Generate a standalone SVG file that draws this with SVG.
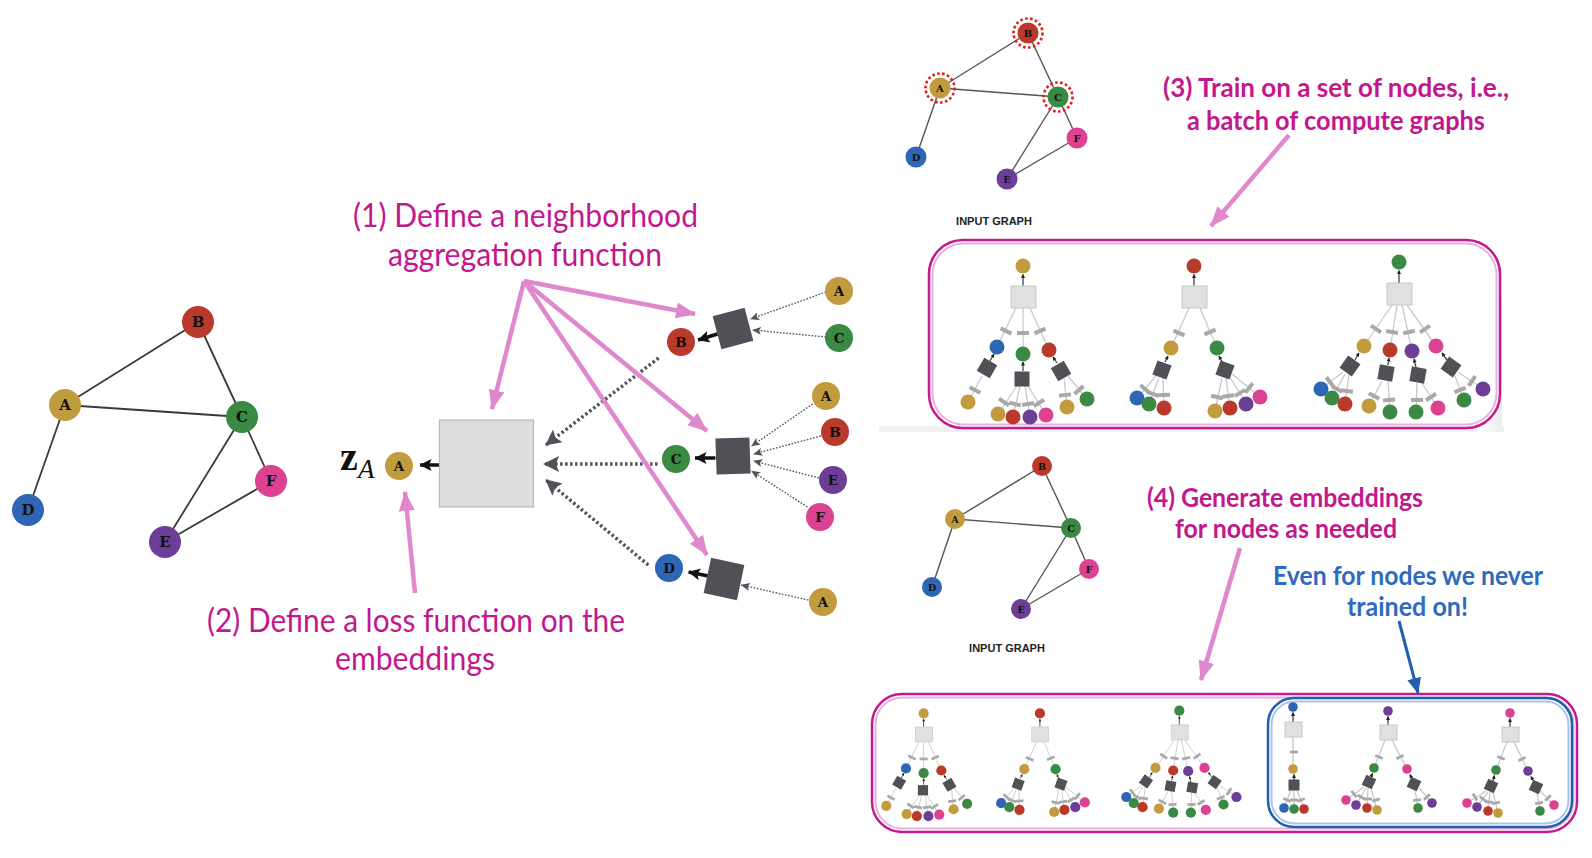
<svg xmlns="http://www.w3.org/2000/svg" xmlns:xlink="http://www.w3.org/1999/xlink" width="1592" height="858" viewBox="0 0 1592 858">
<defs>
<style>
.lbl{font-family:"DejaVu Serif","Liberation Serif",serif;font-weight:bold;fill:#111;text-anchor:middle;dominant-baseline:central}
.ga{fill:#C29B3E}.gb{fill:#B9392A}.gc{fill:#3A8A44}.gd{fill:#2E66B5}.ge{fill:#6C3E97}.gf{fill:#DC4291}
.edge{stroke:#3a3a3a;stroke-width:1.8;fill:none}
.edge2{stroke:#555;stroke-width:1.4;fill:none}
.pink{stroke:#E088CD;stroke-width:4.5;fill:none;marker-end:url(#mPink)}
.thick{stroke:#50545a;stroke-width:3.5;stroke-dasharray:2.5 2.5;fill:none;marker-end:url(#mDot)}
.thin{stroke:#50545a;stroke-width:1.4;stroke-dasharray:1.6 1.6;fill:none;marker-end:url(#mThin)}
.blk{stroke:#111;stroke-width:3.5;fill:none;marker-end:url(#mBlk)}
.tm{font-family:Lato,"Open Sans","Liberation Sans",sans-serif;font-size:32px;fill:#C3178E}
.tb{font-family:Lato,"Open Sans","Liberation Sans",sans-serif;font-size:27px;font-weight:bold;fill:#C3178E}
.tbl{font-family:Lato,"Open Sans","Liberation Sans",sans-serif;font-size:27px;font-weight:bold;fill:#2D6BBE}
.ig{font-family:"Liberation Sans",Arial,sans-serif;font-size:11px;font-weight:bold;fill:#222;text-anchor:middle}
.tl{stroke:#c9c9c9;stroke-width:1.3}
.tk{stroke:#444;stroke-width:1.3;marker-end:url(#mTiny)}
.gbox{fill:#dfe0e2;stroke:#c6c7ca;stroke-width:1}
.sq{fill:#4f5156}
.w{fill:#a9a9a9}
.ring{fill:none;stroke:#E4201C;stroke-width:2.6;stroke-dasharray:2.6 2.4}
</style>
<marker id="mPink" markerUnits="userSpaceOnUse" markerWidth="20" markerHeight="18" viewBox="0 0 20 18" refX="19" refY="9" orient="auto"><path d="M0,1 L20,9 L0,17 Z" fill="#E088CD"/></marker>
<marker id="mBlue" markerUnits="userSpaceOnUse" markerWidth="16" markerHeight="14" viewBox="0 0 16 14" refX="15" refY="7" orient="auto"><path d="M0,0 L16,7 L0,14 Z" fill="#1F5FAF"/></marker>
<marker id="mDot" markerUnits="userSpaceOnUse" markerWidth="16" markerHeight="16" viewBox="0 0 16 16" refX="15" refY="8" orient="auto"><path d="M0,0 L16,8 L0,16 L3,8 Z" fill="#50545a"/></marker>
<marker id="mThin" markerUnits="userSpaceOnUse" markerWidth="9" markerHeight="8" viewBox="0 0 9 8" refX="8.5" refY="4" orient="auto"><path d="M0,0 L9,4 L0,8 L2,4 Z" fill="#50545a"/></marker>
<marker id="mBlk" markerUnits="userSpaceOnUse" markerWidth="12" markerHeight="12" viewBox="0 0 12 12" refX="11.5" refY="6" orient="auto"><path d="M0,0 L12,6 L0,12 L2.5,6 Z" fill="#111"/></marker>
<marker id="mTiny" markerUnits="userSpaceOnUse" markerWidth="4" markerHeight="4" viewBox="0 0 4 4" refX="3.5" refY="2" orient="auto"><path d="M0,0 L4,2 L0,4 Z" fill="#222"/></marker>
<rect id="w" class="w" x="-6" y="-2" width="12" height="4"/>
<rect id="ws" class="w" x="-4" y="-1.4" width="8" height="2.8"/>
<rect id="sq" class="sq" x="-7.5" y="-7.5" width="15" height="15"/>
<rect id="sqs" class="sq" x="-5.5" y="-5.5" width="11" height="11"/>
<linearGradient id="shade" x1="0" y1="0" x2="1" y2="0"><stop offset="0" stop-color="#ffffff"/><stop offset="1" stop-color="#ececec"/></linearGradient>
</defs>
<rect width="1592" height="858" fill="#ffffff"/>

<!-- ===== Left input graph ===== -->
<g id="graph-left">
  <g class="edge">
    <line x1="65" y1="405" x2="198" y2="322"/>
    <line x1="65" y1="405" x2="242" y2="417"/>
    <line x1="198" y1="322" x2="242" y2="417"/>
    <line x1="65" y1="405" x2="28" y2="510"/>
    <line x1="242" y1="417" x2="165" y2="542"/>
    <line x1="242" y1="417" x2="271" y2="481"/>
    <line x1="271" y1="481" x2="165" y2="542"/>
  </g>
  <g id="L-B"><circle class="gb" cx="198" cy="322" r="16"/><text class="lbl" x="198" y="322" font-size="15">B</text></g>
  <g id="L-A"><circle class="ga" cx="65" cy="405" r="16"/><text class="lbl" x="65" y="405" font-size="15">A</text></g>
  <g id="L-C"><circle class="gc" cx="242" cy="417" r="16"/><text class="lbl" x="242" y="417" font-size="15">C</text></g>
  <g id="L-F"><circle class="gf" cx="271" cy="481" r="16"/><text class="lbl" x="271" y="481" font-size="15">F</text></g>
  <g id="L-D"><circle class="gd" cx="28" cy="510" r="16"/><text class="lbl" x="28" y="510" font-size="15">D</text></g>
  <g id="L-E"><circle class="ge" cx="165" cy="542" r="16"/><text class="lbl" x="165" y="542" font-size="15">E</text></g>
</g>

<!-- ===== Middle compute graph ===== -->
<g id="connectors-mid">
  <line class="thick" x1="658.6" y1="358" x2="546" y2="445"/>
  <line class="thick" x1="657.6" y1="464" x2="544" y2="464"/>
  <line class="thick" x1="648.3" y1="565" x2="546" y2="480"/>
  <line class="thin" x1="826" y1="292" x2="750.6" y2="319"/>
  <line class="thin" x1="826" y1="337" x2="752.6" y2="330"/>
  <line class="thin" x1="812.6" y1="404" x2="751.6" y2="446"/>
  <line class="thin" x1="820.8" y1="436" x2="753.7" y2="454"/>
  <line class="thin" x1="818.8" y1="478" x2="753.7" y2="461"/>
  <line class="thin" x1="807.4" y1="507" x2="751.6" y2="471"/>
  <line class="thin" x1="808.4" y1="600" x2="741.3" y2="585"/>
  <line class="blk" x1="439.5" y1="465" x2="420" y2="465"/>
  <line class="blk" x1="717.5" y1="334" x2="698" y2="340"/>
  <line class="blk" x1="715.4" y1="458" x2="695" y2="458"/>
  <line class="blk" x1="708.2" y1="576" x2="688.6" y2="572"/>
</g>
<g id="agg-box"><rect x="439.5" y="420" width="94" height="87" fill="#dcdddf" stroke="#b9babd" stroke-width="1.2"/></g>
<g id="zA-label">
  <text x="340" y="470" font-family="'Liberation Serif','DejaVu Serif',serif" font-weight="bold" font-size="40" fill="#111">z</text>
  <text x="358" y="478" font-family="'Liberation Serif','DejaVu Serif',serif" font-style="italic" font-size="27" fill="#111">A</text>
</g>
<g id="M-A"><circle class="ga" cx="399" cy="466" r="14"/><text class="lbl" x="399" y="466" font-size="13.5">A</text></g>
<g id="M-B"><circle class="gb" cx="681" cy="342" r="14"/><text class="lbl" x="681" y="342" font-size="13.5">B</text></g>
<g id="M-C"><circle class="gc" cx="676" cy="459" r="14"/><text class="lbl" x="676" y="459" font-size="13.5">C</text></g>
<g id="M-D"><circle class="gd" cx="669" cy="568" r="14"/><text class="lbl" x="669" y="568" font-size="13.5">D</text></g>
<g id="M-sqB"><rect class="sq" x="-16.5" y="-17" width="33" height="34" transform="translate(733,328.5) rotate(-15)"/></g>
<g id="M-sqC"><rect class="sq" x="-17" y="-18" width="34" height="36" transform="translate(733,456) rotate(-2)"/></g>
<g id="M-sqD"><rect class="sq" x="-17" y="-18" width="34" height="36" transform="translate(724,579) rotate(12)"/></g>
<g id="M-A1"><circle class="ga" cx="839" cy="291" r="14"/><text class="lbl" x="839" y="291" font-size="13.5">A</text></g>
<g id="M-C1"><circle class="gc" cx="839" cy="338" r="14"/><text class="lbl" x="839" y="338" font-size="13.5">C</text></g>
<g id="M-A2"><circle class="ga" cx="826" cy="396" r="14"/><text class="lbl" x="826" y="396" font-size="13.5">A</text></g>
<g id="M-B2"><circle class="gb" cx="835" cy="432" r="14"/><text class="lbl" x="835" y="432" font-size="13.5">B</text></g>
<g id="M-E2"><circle class="ge" cx="833" cy="480" r="14"/><text class="lbl" x="833" y="480" font-size="13.5">E</text></g>
<g id="M-F2"><circle class="gf" cx="820" cy="517" r="14"/><text class="lbl" x="820" y="517" font-size="13.5">F</text></g>
<g id="M-A3"><circle class="ga" cx="823" cy="602" r="14"/><text class="lbl" x="823" y="602" font-size="13.5">A</text></g>

<!-- ===== Top-right input graph ===== -->
<g id="graph-top">
  <g class="edge2">
    <line x1="940" y1="88" x2="1028" y2="33"/>
    <line x1="940" y1="88" x2="1058" y2="97"/>
    <line x1="1028" y1="33" x2="1058" y2="97"/>
    <line x1="940" y1="88" x2="916" y2="157"/>
    <line x1="1058" y1="97" x2="1007" y2="179"/>
    <line x1="1058" y1="97" x2="1077" y2="138"/>
    <line x1="1077" y1="138" x2="1007" y2="179"/>
  </g>
  <g id="T-B"><circle class="ring" cx="1028" cy="33" r="14.5"/><circle class="gb" cx="1028" cy="33" r="10.5"/><text class="lbl" x="1028" y="33" font-size="10">B</text></g>
  <g id="T-A"><circle class="ring" cx="940" cy="88" r="14.5"/><circle class="ga" cx="940" cy="88" r="10.5"/><text class="lbl" x="940" y="88" font-size="10">A</text></g>
  <g id="T-C"><circle class="ring" cx="1058" cy="97" r="14.5"/><circle class="gc" cx="1058" cy="97" r="10.5"/><text class="lbl" x="1058" y="97" font-size="10">C</text></g>
  <g id="T-F"><circle class="gf" cx="1077" cy="138" r="10.5"/><text class="lbl" x="1077" y="138" font-size="10">F</text></g>
  <g id="T-D"><circle class="gd" cx="916" cy="157" r="10.5"/><text class="lbl" x="916" y="157" font-size="10">D</text></g>
  <g id="T-E"><circle class="ge" cx="1007" cy="179" r="10.5"/><text class="lbl" x="1007" y="179" font-size="10">E</text></g>
  <text class="ig" x="994" y="225">INPUT GRAPH</text>
</g>

<!-- ===== Bottom-right input graph ===== -->
<g id="graph-bottom">
  <g class="edge2">
    <line x1="955" y1="519" x2="1042" y2="466"/>
    <line x1="955" y1="519" x2="1071" y2="528"/>
    <line x1="1042" y1="466" x2="1071" y2="528"/>
    <line x1="955" y1="519" x2="932" y2="587"/>
    <line x1="1071" y1="528" x2="1021" y2="609"/>
    <line x1="1071" y1="528" x2="1089" y2="569"/>
    <line x1="1089" y1="569" x2="1021" y2="609"/>
  </g>
  <g id="U-B"><circle class="gb" cx="1042" cy="466" r="10"/><text class="lbl" x="1042" y="466" font-size="9.5">B</text></g>
  <g id="U-A"><circle class="ga" cx="955" cy="519" r="10"/><text class="lbl" x="955" y="519" font-size="9.5">A</text></g>
  <g id="U-C"><circle class="gc" cx="1071" cy="528" r="10"/><text class="lbl" x="1071" y="528" font-size="9.5">C</text></g>
  <g id="U-F"><circle class="gf" cx="1089" cy="569" r="10"/><text class="lbl" x="1089" y="569" font-size="9.5">F</text></g>
  <g id="U-D"><circle class="gd" cx="932" cy="587" r="10"/><text class="lbl" x="932" y="587" font-size="9.5">D</text></g>
  <g id="U-E"><circle class="ge" cx="1021" cy="609" r="10"/><text class="lbl" x="1021" y="609" font-size="9.5">E</text></g>
  <text class="ig" x="1007" y="652">INPUT GRAPH</text>
</g>

<!-- ===== Top batch box ===== -->
<g id="batch-top">
  <rect x="879" y="426" width="625" height="6" fill="#f0f0f0"/>
  <rect x="1478" y="300" width="24" height="132" fill="url(#shade)"/>
  <rect x="929" y="240" width="571" height="188" rx="34" fill="#ffffff" stroke="#C41A8E" stroke-width="2.5"/>
  <rect x="932.5" y="243.5" width="564" height="181" rx="31" fill="none" stroke="#EDB0DC" stroke-width="2"/>
  <g id="trees-train">
    <g id="treeA">
      <line class="tk" x1="1023" y1="286" x2="1023" y2="274.5"/>
      <g class="tl">
        <line x1="1016" y1="308" x2="997" y2="347"/><line x1="1023" y1="308" x2="1023" y2="354"/><line x1="1030" y1="308" x2="1049" y2="350"/>
        <line x1="982" y1="376" x2="968" y2="402"/>
        <line x1="1017" y1="386" x2="998" y2="414"/><line x1="1020" y1="386" x2="1013" y2="417"/><line x1="1025" y1="386" x2="1030" y2="417"/><line x1="1028" y1="386" x2="1046" y2="415"/>
        <line x1="1064" y1="378" x2="1067" y2="407"/><line x1="1068" y1="376" x2="1087" y2="399"/>
      </g>
      <rect class="gbox" x="1011" y="286" width="25" height="22"/>
      <circle class="ga" cx="1023" cy="266" r="7.5"/>
      <use href="#w" transform="translate(1006,331) rotate(26)"/><use href="#w" transform="translate(1023,333)"/><use href="#w" transform="translate(1040,331) rotate(-24)"/>
      <circle class="gd" cx="997" cy="347" r="7.5"/><circle class="gc" cx="1023" cy="354" r="7.5"/><circle class="gb" cx="1049" cy="350" r="7.5"/>
      <line class="tk" x1="990" y1="361" x2="994" y2="354"/><line class="tk" x1="1023" y1="371" x2="1023" y2="362"/><line class="tk" x1="1057" y1="363" x2="1053" y2="357"/>
      <use href="#sq" transform="translate(987,368) rotate(30)"/><use href="#sq" transform="translate(1022,379)"/><use href="#sq" transform="translate(1061,371) rotate(-30)"/>
      <use href="#w" transform="translate(975,390) rotate(28)"/>
      <use href="#w" transform="translate(1004,402) rotate(34)"/><use href="#w" transform="translate(1015,404) rotate(13)"/><use href="#w" transform="translate(1028,404) rotate(-9)"/><use href="#w" transform="translate(1039,403) rotate(-32)"/>
      <use href="#w" transform="translate(1065,395) rotate(-6)"/><use href="#w" transform="translate(1079,390) rotate(-40)"/>
      <circle class="ga" cx="968" cy="402" r="7.5"/>
      <circle class="ga" cx="998" cy="414" r="7.5"/><circle class="gb" cx="1013" cy="417" r="7.5"/><circle class="ge" cx="1030" cy="417" r="7.5"/><circle class="gf" cx="1046" cy="415" r="7.5"/>
      <circle class="ga" cx="1067" cy="407" r="7.5"/><circle class="gc" cx="1087" cy="399" r="7.5"/>
    </g>
    <g id="treeB">
      <line class="tk" x1="1194" y1="286" x2="1194" y2="274.5"/>
      <g class="tl">
        <line x1="1189" y1="308" x2="1171" y2="348"/><line x1="1200" y1="308" x2="1217" y2="348"/>
        <line x1="1156" y1="376" x2="1137" y2="398"/><line x1="1159" y1="378" x2="1149" y2="404"/><line x1="1163" y1="378" x2="1164" y2="408"/>
        <line x1="1222" y1="378" x2="1215" y2="411"/><line x1="1226" y1="378" x2="1230" y2="408"/><line x1="1230" y1="377" x2="1246" y2="404"/><line x1="1232" y1="374" x2="1260" y2="397"/>
      </g>
      <rect class="gbox" x="1182" y="286" width="25" height="22"/>
      <circle class="gb" cx="1194" cy="266" r="7.5"/>
      <use href="#w" transform="translate(1179,333) rotate(24)"/><use href="#w" transform="translate(1210,332) rotate(-23)"/>
      <circle class="ga" cx="1171" cy="348" r="7.5"/><circle class="gc" cx="1217" cy="348" r="7.5"/>
      <line class="tk" x1="1165" y1="362" x2="1168" y2="356"/><line class="tk" x1="1222" y1="362" x2="1219" y2="356"/>
      <use href="#sq" transform="translate(1162,370) rotate(20)"/><use href="#sq" transform="translate(1225,370) rotate(20)"/>
      <use href="#w" transform="translate(1145,389) rotate(41)"/><use href="#w" transform="translate(1153,394) rotate(21)"/><use href="#w" transform="translate(1164,395) rotate(-2)"/>
      <use href="#w" transform="translate(1217,397) rotate(12)"/><use href="#w" transform="translate(1228,396) rotate(-8)"/><use href="#w" transform="translate(1240,393) rotate(-31)"/><use href="#w" transform="translate(1249,388) rotate(-51)"/>
      <circle class="gd" cx="1137" cy="398" r="7.5"/><circle class="gc" cx="1149" cy="404" r="7.5"/><circle class="gb" cx="1164" cy="408" r="7.5"/>
      <circle class="ga" cx="1215" cy="411" r="7.5"/><circle class="gb" cx="1230" cy="408" r="7.5"/><circle class="ge" cx="1246" cy="404" r="7.5"/><circle class="gf" cx="1260" cy="397" r="7.5"/>
    </g>
    <g id="treeC">
      <line class="tk" x1="1399" y1="283" x2="1399" y2="270.5"/>
      <g class="tl">
        <line x1="1392" y1="305" x2="1364" y2="346"/><line x1="1397" y1="305" x2="1390" y2="350"/><line x1="1402" y1="305" x2="1412" y2="351"/><line x1="1407" y1="305" x2="1436" y2="346"/>
        <line x1="1343" y1="372" x2="1321" y2="389"/><line x1="1345" y1="374" x2="1332" y2="398"/><line x1="1349" y1="374" x2="1345" y2="404"/>
        <line x1="1382" y1="381" x2="1369" y2="406"/><line x1="1388" y1="381" x2="1390" y2="412"/>
        <line x1="1417" y1="383" x2="1416" y2="412"/><line x1="1422" y1="383" x2="1438" y2="408"/>
        <line x1="1455" y1="376" x2="1464" y2="400"/><line x1="1458" y1="372" x2="1483" y2="389"/>
      </g>
      <rect class="gbox" x="1387" y="283" width="25" height="22"/>
      <circle class="gc" cx="1399" cy="262" r="7.5"/>
      <use href="#w" transform="translate(1376,329) rotate(34)"/><use href="#w" transform="translate(1392,332) rotate(9)"/><use href="#w" transform="translate(1409,332) rotate(-12)"/><use href="#w" transform="translate(1425,329) rotate(-35)"/>
      <circle class="ga" cx="1364" cy="346" r="7.5"/><circle class="gb" cx="1390" cy="350" r="7.5"/><circle class="ge" cx="1412" cy="351" r="7.5"/><circle class="gf" cx="1436" cy="346" r="7.5"/>
      <line class="tk" x1="1355" y1="360" x2="1359" y2="353"/><line class="tk" x1="1388" y1="365" x2="1389" y2="358"/><line class="tk" x1="1416" y1="367" x2="1414" y2="359"/><line class="tk" x1="1447" y1="360" x2="1442" y2="353"/>
      <use href="#sq" transform="translate(1350,366) rotate(35)"/><use href="#sq" transform="translate(1386,373) rotate(10)"/><use href="#sq" transform="translate(1418,375) rotate(10)"/><use href="#sq" transform="translate(1451,367) rotate(35)"/>
      <use href="#w" transform="translate(1330,382) rotate(52)"/><use href="#w" transform="translate(1337,389) rotate(28)"/><use href="#w" transform="translate(1347,391) rotate(8)"/>
      <use href="#w" transform="translate(1374,396) rotate(28)"/><use href="#w" transform="translate(1389,400) rotate(-4)"/>
      <use href="#w" transform="translate(1417,400)"/><use href="#w" transform="translate(1431,397) rotate(-33)"/>
      <use href="#w" transform="translate(1460,390) rotate(-21)"/><use href="#w" transform="translate(1472,381) rotate(-56)"/>
      <circle class="gd" cx="1321" cy="389" r="7.5"/><circle class="gc" cx="1332" cy="398" r="7.5"/><circle class="gb" cx="1345" cy="404" r="7.5"/>
      <circle class="ga" cx="1369" cy="406" r="7.5"/><circle class="gc" cx="1390" cy="412" r="7.5"/>
      <circle class="gc" cx="1416" cy="412" r="7.5"/><circle class="gf" cx="1438" cy="408" r="7.5"/>
      <circle class="gc" cx="1464" cy="400" r="7.5"/><circle class="ge" cx="1483" cy="389" r="7.5"/>
    </g>
  </g>
</g>

<!-- ===== Bottom batch box ===== -->
<g id="batch-bottom">
  <rect x="872" y="694" width="705" height="138" rx="30" fill="#ffffff" stroke="#C41A8E" stroke-width="2.5"/>
  <rect x="875.5" y="697.5" width="698" height="131" rx="27" fill="none" stroke="#EDB0DC" stroke-width="2"/>
  <use href="#trees-train" transform="translate(228,532.5) scale(0.68)"/>
  <g id="unseen-box">
    <rect x="1268" y="698" width="304" height="129" rx="26" fill="none" stroke="#1E5FB0" stroke-width="2.5"/>
    <rect x="1271.5" y="701.5" width="297" height="122" rx="23" fill="none" stroke="#A9C6EA" stroke-width="2"/>
  </g>
  <g id="treeD">
    <line class="tk" x1="1293" y1="722" x2="1293" y2="712.5"/>
    <g class="tl">
      <line x1="1293" y1="737" x2="1293" y2="769"/>
      <line x1="1291" y1="790" x2="1284" y2="808"/><line x1="1294" y1="790" x2="1294" y2="809"/><line x1="1297" y1="790" x2="1304" y2="809"/>
    </g>
    <rect class="gbox" x="1285" y="722" width="17" height="15"/>
    <circle class="gd" cx="1293" cy="707" r="4.8"/>
    <use href="#ws" transform="translate(1294,752)"/>
    <circle class="ga" cx="1293" cy="769" r="4.8"/>
    <line class="tk" x1="1294" y1="780" x2="1294" y2="774.5"/>
    <use href="#sqs" transform="translate(1294,785)"/>
    <use href="#ws" transform="translate(1287,800) rotate(22)"/><use href="#ws" transform="translate(1294,800)"/><use href="#ws" transform="translate(1301,800) rotate(-22)"/>
    <circle class="gd" cx="1284" cy="808" r="4.8"/><circle class="gc" cx="1294" cy="809" r="4.8"/><circle class="gb" cx="1304" cy="809" r="4.8"/>
  </g>
  <g id="treeE">
    <line class="tk" x1="1388" y1="725" x2="1388" y2="716.5"/>
    <g class="tl">
      <line x1="1385" y1="740" x2="1374" y2="768"/><line x1="1392" y1="740" x2="1407" y2="769"/>
      <line x1="1364" y1="787" x2="1346" y2="800"/><line x1="1366" y1="788" x2="1356" y2="805"/><line x1="1368" y1="788" x2="1367" y2="808"/><line x1="1371" y1="788" x2="1377" y2="810"/>
      <line x1="1415" y1="790" x2="1418" y2="808"/><line x1="1419" y1="788" x2="1432" y2="803"/>
    </g>
    <rect class="gbox" x="1380" y="725" width="17" height="15"/>
    <circle class="ge" cx="1388" cy="711" r="4.8"/>
    <use href="#ws" transform="translate(1379,757) rotate(22)"/><use href="#ws" transform="translate(1400,757) rotate(-27)"/>
    <circle class="gc" cx="1374" cy="768" r="4.8"/><circle class="gf" cx="1407" cy="769" r="4.8"/>
    <line class="tk" x1="1371" y1="777" x2="1372.5" y2="773.5"/><line class="tk" x1="1412" y1="779" x2="1410" y2="774.5"/>
    <use href="#sqs" transform="translate(1369,782) rotate(25)"/><use href="#sqs" transform="translate(1414,784) rotate(25)"/>
    <use href="#ws" transform="translate(1354,794) rotate(54)"/><use href="#ws" transform="translate(1361,797) rotate(30)"/><use href="#ws" transform="translate(1368,799)"/><use href="#ws" transform="translate(1376,800) rotate(-15)"/>
    <use href="#ws" transform="translate(1417,800) rotate(-5)"/><use href="#ws" transform="translate(1427,797) rotate(-41)"/>
    <circle class="gf" cx="1346" cy="800" r="4.8"/><circle class="ge" cx="1356" cy="805" r="4.8"/><circle class="gb" cx="1367" cy="808" r="4.8"/><circle class="ga" cx="1377" cy="810" r="4.8"/>
    <circle class="gc" cx="1418" cy="808" r="4.8"/><circle class="ge" cx="1432" cy="803" r="4.8"/>
  </g>
  <g id="treeF">
    <line class="tk" x1="1510" y1="727" x2="1510" y2="718.5"/>
    <g class="tl">
      <line x1="1507" y1="742" x2="1496" y2="770"/><line x1="1514" y1="742" x2="1528" y2="771"/>
      <line x1="1486" y1="791" x2="1467" y2="803"/><line x1="1488" y1="792" x2="1477" y2="807"/><line x1="1490" y1="792" x2="1488" y2="811"/><line x1="1493" y1="792" x2="1498" y2="813"/>
      <line x1="1537" y1="793" x2="1540" y2="811"/><line x1="1540" y1="791" x2="1554" y2="805"/>
    </g>
    <rect class="gbox" x="1502" y="727" width="17" height="15"/>
    <circle class="gf" cx="1510" cy="713" r="4.8"/>
    <use href="#ws" transform="translate(1501,758) rotate(21)"/><use href="#ws" transform="translate(1522,759) rotate(-26)"/>
    <circle class="gc" cx="1496" cy="770" r="4.8"/><circle class="ge" cx="1528" cy="771" r="4.8"/>
    <line class="tk" x1="1493" y1="781" x2="1494.5" y2="775.5"/><line class="tk" x1="1534" y1="782" x2="1531" y2="776.5"/>
    <use href="#sqs" transform="translate(1491,786) rotate(25)"/><use href="#sqs" transform="translate(1536,787) rotate(25)"/>
    <use href="#ws" transform="translate(1475,797) rotate(58)"/><use href="#ws" transform="translate(1483,799) rotate(36)"/><use href="#ws" transform="translate(1489,802) rotate(6)"/><use href="#ws" transform="translate(1496,803) rotate(-13)"/>
    <use href="#ws" transform="translate(1539,803) rotate(-8)"/><use href="#ws" transform="translate(1548,798) rotate(-45)"/>
    <circle class="gf" cx="1467" cy="803" r="4.8"/><circle class="ge" cx="1477" cy="807" r="4.8"/><circle class="gb" cx="1488" cy="811" r="4.8"/><circle class="ga" cx="1498" cy="813" r="4.8"/>
    <circle class="gc" cx="1540" cy="811" r="4.8"/><circle class="gf" cx="1554" cy="805" r="4.8"/>
  </g>
</g>

<!-- ===== Annotation arrows ===== -->
<g id="annotation-arrows">
  <line class="pink" x1="524" y1="281" x2="492" y2="409"/>
  <line class="pink" x1="524" y1="281" x2="695" y2="314"/>
  <line class="pink" x1="524" y1="281" x2="707" y2="431"/>
  <line class="pink" x1="524" y1="281" x2="707" y2="555"/>
  <line class="pink" x1="415" y1="593" x2="405" y2="492"/>
  <line class="pink" x1="1289" y1="135" x2="1211" y2="226"/>
  <line class="pink" x1="1240" y1="548" x2="1201" y2="680"/>
  <line x1="1399" y1="621" x2="1418" y2="693" stroke="#1F5FAF" stroke-width="3" marker-end="url(#mBlue)"/>
</g>

<!-- ===== Texts ===== -->
<g id="text-1">
  <text class="tm" x="353" y="227" textLength="345" lengthAdjust="spacingAndGlyphs">(1) Define a neighborhood</text>
  <text class="tm" x="388" y="266" textLength="274" lengthAdjust="spacingAndGlyphs">aggregation function</text>
</g>
<g id="text-2">
  <text class="tm" x="207" y="632" textLength="418" lengthAdjust="spacingAndGlyphs">(2) Define a loss function on the</text>
  <text class="tm" x="335" y="670" textLength="160" lengthAdjust="spacingAndGlyphs">embeddings</text>
</g>
<g id="text-3">
  <text class="tb" x="1163" y="97" textLength="346" lengthAdjust="spacingAndGlyphs">(3) Train on a set of nodes, i.e.,</text>
  <text class="tb" x="1187" y="130" textLength="298" lengthAdjust="spacingAndGlyphs">a batch of compute graphs</text>
</g>
<g id="text-4">
  <text class="tb" x="1147" y="507" textLength="276" lengthAdjust="spacingAndGlyphs">(4) Generate embeddings</text>
  <text class="tb" x="1175" y="538" textLength="222" lengthAdjust="spacingAndGlyphs">for nodes as needed</text>
</g>
<g id="text-5">
  <text class="tbl" x="1273" y="585" textLength="270" lengthAdjust="spacingAndGlyphs">Even for nodes we never</text>
  <text class="tbl" x="1347" y="616" textLength="121" lengthAdjust="spacingAndGlyphs">trained on!</text>
</g>
</svg>
